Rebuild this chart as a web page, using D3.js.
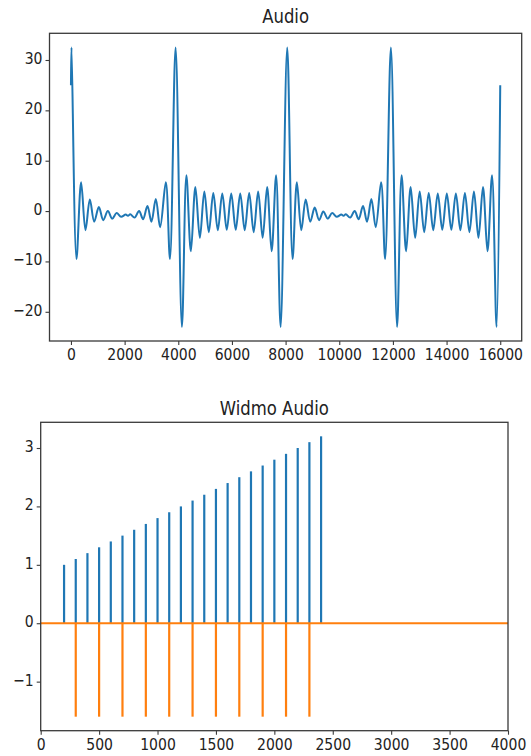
<!DOCTYPE html>
<html>
<head>
<meta charset="utf-8">
<script src="https://cdn.jsdelivr.net/npm/d3@7"></script>
<style>
  html, body { margin: 0; padding: 0; background: #fff; }
  svg { display: block; }
  .tick text { font-family: "DejaVu Sans", sans-serif; fill: #222; }
  .title { font-family: "DejaVu Sans", sans-serif; fill: #222; }
</style>
</head>
<body>
<svg id="chart" width="531" height="756"></svg>
<script>
// Time-domain signal: sample index and amplitude at each turning point of the trace
const audioTime = [
  0, 20, 205, 378, 541, 704, 866, 1040, 1203, 1375, 1540, 1700, 1870, 2040, 2125, 2210,
  2370, 2538, 2688, 2850, 3000, 3162, 3324, 3536, 3690, 3900, 4135,
  4302, 4469, 4637, 4804, 4971, 5138, 5305, 5473, 5640, 5807, 5974, 6141, 6309, 6476,
  6643, 6810, 6977, 7145, 7312, 7479, 7646, 7814, 8060,
  8260, 8420, 8585, 8750, 8920, 9085, 9250, 9405, 9570, 9735, 9905, 10075, 10160, 10245,
  10405, 10573, 10723, 10885, 11035, 11197, 11359, 11560, 11710, 11925, 12155,
  12324, 12492, 12661, 12829, 12998, 13166, 13335, 13503, 13672, 13840, 14009, 14177,
  14346, 14514, 14683, 14851, 15020, 15188, 15357, 15525, 15694, 15862, 16000
];
const audioValue = [
  25.0, 32.5, -9.5, 5.7, -3.8, 2.3, -2.1, 0.8, -1.8, 0.0, -1.5, -0.4, -1.15, -0.7, -0.95, -0.65,
  -1.3, 0.0, -1.6, 1.0, -2.1, 2.4, -3.2, 5.7, -9.5, 32.5, -23.0,
  7.1, -8.0, 4.8, -5.3, 3.9, -4.2, 3.6, -3.8, 3.5, -3.7, 3.5, -3.7, 3.5, -3.8,
  3.6, -4.2, 3.9, -5.3, 4.8, -8.0, 7.1, -23.0, 32.5,
  -9.5, 5.7, -3.8, 2.3, -2.1, 0.7, -1.8, -0.1, -1.5, -0.4, -1.15, -0.7, -0.95, -0.65,
  -1.3, 0.0, -1.6, 1.0, -2.1, 2.4, -3.2, 5.7, -9.5, 32.5, -23.0,
  7.1, -8.0, 4.8, -5.3, 3.9, -4.2, 3.6, -3.8, 3.5, -3.7, 3.5, -3.7,
  3.5, -3.8, 3.6, -4.2, 3.9, -5.3, 4.8, -8.0, 7.1, -23.0, 25.0
];
const audioXTicks = [0, 2000, 4000, 6000, 8000, 10000, 12000, 14000, 16000];
const audioYTicks = [-20, -10, 0, 10, 20, 30];

// Spectrum: real part at every 100 Hz from 200 to 2400, imaginary part at odd hundreds
const realFreq = [200, 300, 400, 500, 600, 700, 800, 900, 1000, 1100, 1200, 1300,
                  1400, 1500, 1600, 1700, 1800, 1900, 2000, 2100, 2200, 2300, 2400];
const realValue = [1.0, 1.1, 1.2, 1.3, 1.4, 1.5, 1.6, 1.7, 1.8, 1.9, 2.0, 2.1,
                   2.2, 2.3, 2.4, 2.5, 2.6, 2.7, 2.8, 2.9, 3.0, 3.1, 3.2];
const imagFreq = [300, 500, 700, 900, 1100, 1300, 1500, 1700, 1900, 2100, 2300];
const imagValue = [-1.6, -1.6, -1.6, -1.6, -1.6, -1.6, -1.6, -1.6, -1.6, -1.6, -1.6];
const specXTicks = [0, 500, 1000, 1500, 2000, 2500, 3000, 3500, 4000];
const specYTicks = [-1, 0, 1, 2, 3];

const BLUE = "#1f77b4", ORANGE = "#ff7f0e", INK = "#3a3a3a";
const TEXT_STRETCH = 1.15;   // glyphs are drawn slightly taller than wide
const svg = d3.select("#chart");

function frame(box) {
  svg.append("rect")
    .attr("x", box.left).attr("y", box.top)
    .attr("width", box.right - box.left).attr("height", box.bottom - box.top)
    .attr("fill", "none").attr("stroke", INK).attr("stroke-width", 1.3);
}

function axes(box, x, y, xt, yt, fmt) {
  const gx = svg.append("g").attr("transform", `translate(0,${box.bottom})`)
    .call(d3.axisBottom(x).tickValues(xt).tickSize(4).tickPadding(3).tickFormat(fmt));
  const gy = svg.append("g").attr("transform", `translate(${box.left},0)`)
    .call(d3.axisLeft(y).tickValues(yt).tickSize(4).tickPadding(3).tickFormat(fmt));
  [gx, gy].forEach(g => {
    g.select(".domain").remove();
    g.selectAll(".tick line").attr("stroke", INK).attr("stroke-width", 1.1);
    g.selectAll(".tick text").attr("font-size", 14)
      .attr("transform", `scale(1,${TEXT_STRETCH})`);
  });
  gy.selectAll(".tick text").attr("dy", "0.22em");
}

function title(box, baseline, label) {
  svg.append("text").attr("class", "title")
    .attr("x", (box.left + box.right) / 2).attr("y", baseline / TEXT_STRETCH)
    .attr("transform", `scale(1,${TEXT_STRETCH})`)
    .attr("text-anchor", "middle").attr("font-size", 16.5).text(label);
}

const fmt = d => (d < 0 ? "\u2212" + Math.abs(d) : String(d));

// ---- Audio (time domain) ----
const audioBox = { left: 49.5, right: 521.7, top: 33.3, bottom: 341 };
const xA = d3.scaleLinear().domain([-800, 16800]).range([audioBox.left, audioBox.right]);
const yA = d3.scaleLinear().domain([-25.8, 35.3]).range([audioBox.bottom, audioBox.top]);

const audio = audioTime.map((t, i) => [t, audioValue[i]]);
svg.append("path")
  .datum(audio)
  .attr("fill", "none").attr("stroke", BLUE).attr("stroke-width", 2)
  .attr("stroke-linejoin", "round")
  .attr("d", d3.line().x(d => xA(d[0])).y(d => yA(d[1])).curve(d3.curveCatmullRom.alpha(0.5)));

frame(audioBox);
axes(audioBox, xA, yA, audioXTicks, audioYTicks, fmt);
title(audioBox, 23, "Audio");

// ---- Widmo Audio (spectrum) ----
const specBox = { left: 40.7, right: 508, top: 422.3, bottom: 730.7 };
const xS = d3.scaleLinear().domain([0, 4000]).range([specBox.left, specBox.right]);
const yS = d3.scaleLinear().domain([-1.84, 3.44]).range([specBox.bottom, specBox.top]);

svg.append("g").selectAll("line")
  .data(realFreq.map((f, i) => [f, realValue[i]]))
  .join("line")
  .attr("x1", d => xS(d[0])).attr("x2", d => xS(d[0]))
  .attr("y1", yS(0)).attr("y2", d => yS(d[1]))
  .attr("stroke", BLUE).attr("stroke-width", 2.2);

svg.append("line")
  .attr("x1", xS(0)).attr("x2", xS(4000)).attr("y1", yS(0)).attr("y2", yS(0))
  .attr("stroke", ORANGE).attr("stroke-width", 2);

svg.append("g").selectAll("line")
  .data(imagFreq.map((f, i) => [f, imagValue[i]]))
  .join("line")
  .attr("x1", d => xS(d[0])).attr("x2", d => xS(d[0]))
  .attr("y1", yS(0)).attr("y2", d => yS(d[1]))
  .attr("stroke", ORANGE).attr("stroke-width", 2.2);

frame(specBox);
axes(specBox, xS, yS, specXTicks, specYTicks, fmt);
title(specBox, 415, "Widmo Audio");
</script>
</body>
</html>
